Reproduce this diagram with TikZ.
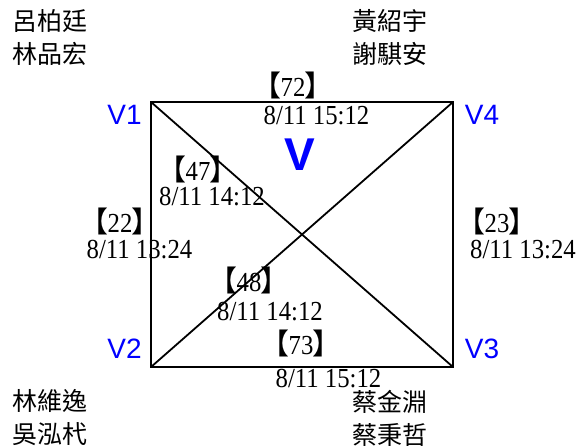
\documentclass[tikz,border=0pt]{standalone}
\usepackage{fontspec}
\setmainfont{Liberation Serif}[FakeStretch=0.9]
\setsansfont{Liberation Sans}
\newfontfamily\cjk{Noto Sans CJK TC}
\usepackage{tikz}

% lenticular brackets around a count
\newcommand{\bk}[1]{{\cjk\fontsize{29}{29}\selectfont 【}\kern-1pt#1\kern-1pt{\cjk\fontsize{29}{29}\selectfont 】}}

\tikzset{
  vlabel/.style={text=blue, font=\sffamily\fontsize{28}{28}\selectfont, inner sep=0pt},
  stamp/.style={font=\fontsize{27.5}{27.5}\selectfont, inner sep=0pt},
  who/.style={font=\cjk\fontsize{25}{33}\selectfont, align=left, inner sep=0pt},
  edge/.style={line width=1.8pt},
}

\begin{document}
\begin{tikzpicture}[x=1pt, y=-1pt]
  \useasboundingbox (0,0) rectangle (577,446);

  % Corners of the square
  \coordinate (V1) at (151,102);
  \coordinate (V4) at (453,102);
  \coordinate (V2) at (151,367);
  \coordinate (V3) at (453,367);

  % Square and diagonals
  \draw[edge] (V1) -- (V4) -- (V3) -- (V2) -- cycle;
  \draw[edge] (V1) -- (V3);
  \draw[edge] (V2) -- (V4);

  % Vertex labels
  \node[vlabel] (v1lab) at (124.5,115) {V1};
  \node[vlabel] (v4lab) at (482,115) {V4};
  \node[vlabel] (v2lab) at (124.5,349) {V2};
  \node[vlabel] (v3lab) at (482,349) {V3};
  \node[text=blue, font=\sffamily\bfseries\fontsize{46}{46}\selectfont, inner sep=0pt] (vbig) at (300,155) {V};

  % Counts and times on the edges
  \node[stamp] (c72) at (293,85) {\bk{72}};
  \node[stamp] (t72) at (316.5,116) {8/11 15:12};
  \node[stamp] (c47) at (198,169) {\bk{47}};
  \node[stamp] (t47) at (212,197) {8/11 14:12};
  \node[stamp] (c22) at (120,221) {\bk{22}};
  \node[stamp] (t22) at (139.5,250) {8/11 13:24};
  \node[stamp] (c23) at (497,221) {\bk{23}};
  \node[stamp] (t23) at (523,250) {8/11 13:24};
  \node[stamp] (c48) at (249,280) {\bk{48}};
  \node[stamp] (t48) at (270,312) {8/11 14:12};
  \node[stamp] (c73) at (301,343) {\bk{73}};
  \node[stamp] (t73) at (328.5,379) {8/11 15:12};

  % Names in the corners
  \node[who] (nw) at (50,37.5) {呂柏廷\\林品宏};
  \node[who] (ne) at (390,37.5) {黃紹宇\\謝騏安};
  \node[who] (sw) at (50,418) {林維逸\\吳泓杙};
  \node[who] (se) at (390,418) {蔡金淵\\蔡秉哲};
\end{tikzpicture}
\end{document}
